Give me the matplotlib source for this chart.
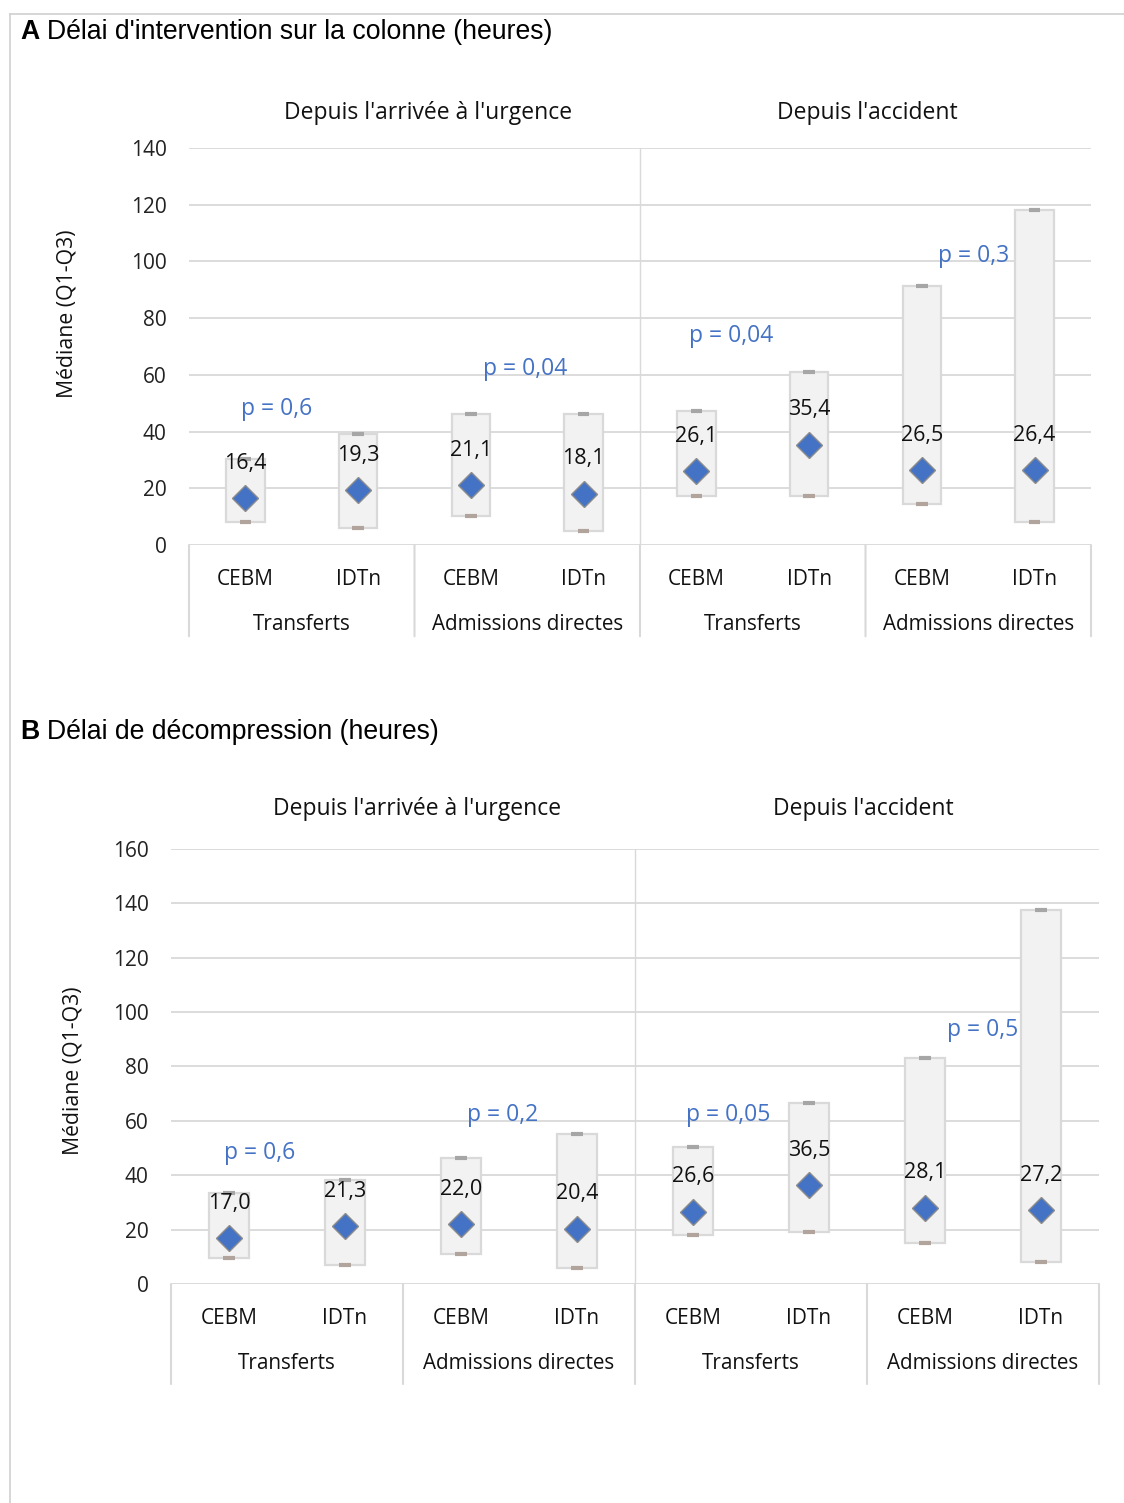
import matplotlib

matplotlib.use("Agg")
import matplotlib.pyplot as plt
from matplotlib.lines import Line2D
from matplotlib.patches import Rectangle

plt.rcParams["font.family"] = ["Open Sans", "DejaVu Sans"]

arms = ["CEBM", "IDTn", "CEBM", "IDTn", "CEBM", "IDTn", "CEBM", "IDTn"]
groups = ["Transferts", "Admissions directes", "Transferts", "Admissions directes"]
headers = ["Depuis l'arrivée à l'urgence", "Depuis l'accident"]

# panel A: délai d'intervention sur la colonne
a_q1 = [8.1, 6.0, 10.2, 4.9, 17.3, 17.3, 14.5, 8.1]
a_q3 = [30.3, 39.1, 46.2, 46.2, 47.2, 61.0, 91.3, 118.1]
a_med = [16.4, 19.3, 21.1, 18.1, 26.1, 35.4, 26.5, 26.4]
a_p_text = ["p = 0,6", "p = 0,04", "p = 0,04", "p = 0,3"]
a_p_x = [0.28, 2.48, 4.31, 6.46]
a_p_y = [48, 62, 73.7, 102]
a_head_x = [1.62, 5.52]

# panel B: délai de décompression
b_q1 = [9.6, 7.0, 11.0, 5.9, 18.0, 19.1, 15.1, 8.1]
b_q3 = [33.5, 38.2, 46.3, 55.2, 50.4, 66.6, 83.1, 137.5]
b_med = [17.0, 21.3, 22.0, 20.4, 26.6, 36.5, 28.1, 27.2]
b_p_text = ["p = 0,6", "p = 0,2", "p = 0,05", "p = 0,5"]
b_p_x = [0.26, 2.36, 4.30, 6.5]
b_p_y = [48.2, 62, 62, 93.4]
b_head_x = [1.62, 5.47]

GRID = "#d9d9d9"
BLUE = "#4472c4"
INK = "#111111"


def fmt(v):
    return f"{v:.1f}".replace(".", ",")


def draw_panel(ax, q1, q3, med, p_text, p_x, p_y, head_x, ymax, ylabel_xy, head_off):
    n = len(arms)
    ax.set_xlim(-0.5, n - 0.5)
    ax.set_ylim(0, ymax)
    ax.set_yticks(range(0, ymax + 1, 20))
    ax.set_xticks([])
    for s in ax.spines.values():
        s.set_visible(False)
    ax.tick_params(axis="y", length=0, pad=16, labelsize=15, colors="#222222")
    ax.yaxis.grid(True, color=GRID, linewidth=1.3)
    ax.set_axisbelow(True)
    ax.set_ylabel("Médiane (Q1-Q3)", fontsize=15.3, color=INK)
    ax.yaxis.set_label_coords(*ylabel_xy)

    w = 0.34
    for i in range(n):
        ax.add_patch(Rectangle((i - w / 2, q1[i]), w, q3[i] - q1[i],
                               facecolor="#f2f2f2", edgecolor=GRID, linewidth=1.6, zorder=2))
        ax.plot([i - 0.05, i + 0.05], [q3[i], q3[i]], color="#a6a6a6", linewidth=3,
                solid_capstyle="butt", zorder=3)
        ax.plot([i - 0.05, i + 0.05], [q1[i], q1[i]], color="#b0a49c", linewidth=3,
                solid_capstyle="butt", zorder=3)
        ax.plot(i, med[i], marker="D", markersize=13, color=BLUE,
                markeredgecolor="#8c8c8c", markeredgewidth=1, zorder=4)
        ax.annotate(fmt(med[i]), (i, med[i]), xytext=(0, 25), textcoords="offset points",
                    ha="center", va="center", fontsize=15.5, color=INK, zorder=5)

    for t, x, y in zip(p_text, p_x, p_y):
        ax.text(x, y, t, ha="center", va="center", fontsize=16.5, color=BLUE, zorder=5)

    # separator between the two time references
    ax.axvline(3.5, color=GRID, linewidth=1, zorder=1)

    trans = ax.get_xaxis_transform()
    for i, a in enumerate(arms):
        ax.annotate(a, (i, 0), xycoords=trans, xytext=(0, -25), textcoords="offset points",
                    ha="center", va="center", fontsize=15, color=INK)
    for g, name in enumerate(groups):
        ax.annotate(name, (2 * g + 0.5, 0), xycoords=trans, xytext=(0, -57.5),
                    textcoords="offset points", ha="center", va="center",
                    fontsize=14.9, color=INK)
    for x in [-0.5, 1.5, 3.5, 5.5, 7.5]:
        ax.annotate("", (x, 0), xycoords=trans, xytext=(x, -0.23), textcoords=trans,
                    arrowprops=dict(arrowstyle="-", color=GRID, linewidth=1.5,
                                    shrinkA=0, shrinkB=0))
    for x, name in zip(head_x, headers):
        ax.annotate(name, (x, 1.0), xycoords=trans, xytext=(0, head_off),
                    textcoords="offset points", ha="center", va="center",
                    fontsize=16.5, color=INK)


fig = plt.figure(figsize=(11.24, 15.03), dpi=100)

ax_a = fig.add_axes([0.16815, 0.63739, 0.80249, 0.26414])
draw_panel(ax_a, a_q1, a_q3, a_med, a_p_text, a_p_x, a_p_y, a_head_x, 140, (-0.124, 0.582), 25)

ax_b = fig.add_axes([0.15214, 0.14571, 0.82562, 0.28942])
draw_panel(ax_b, b_q1, b_q3, b_med, b_p_text, b_p_x, b_p_y, b_head_x, 160, (-0.094, 0.49), 29)

for letter, title, ypix in [("A", "Délai d'intervention sur la colonne (heures)", 32),
                            ("B", "Délai de décompression (heures)", 732)]:
    fig.text(20 / 1124, 1 - ypix / 1503, letter, family="Liberation Sans",
             fontweight="bold", fontsize=19.2, ha="left", va="center")
    fig.text(47 / 1124, 1 - ypix / 1503, title, family="Liberation Sans",
             fontsize=19.2, ha="left", va="center")

fig.add_artist(Line2D([10 / 1124, 1], [1 - 14 / 1503] * 2, color="#d0d0d0", linewidth=1.2))
fig.add_artist(Line2D([10 / 1124] * 2, [0, 1 - 14 / 1503], color="#d0d0d0", linewidth=1.2))

fig.savefig("out.png", dpi=100)
plt.close(fig)
